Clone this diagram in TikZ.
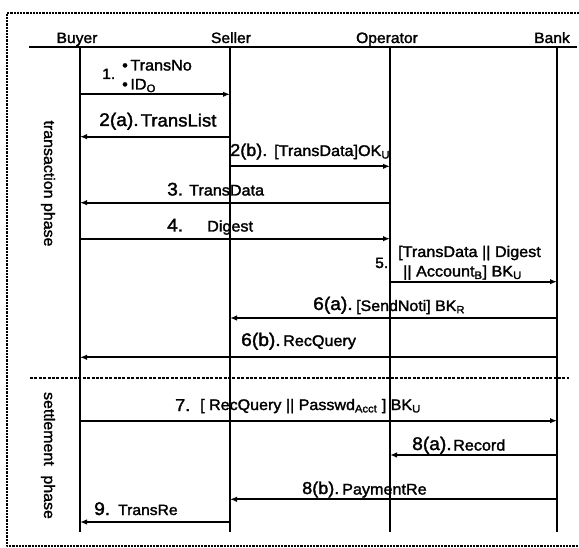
\documentclass[tikz,border=0pt]{standalone}
\usepackage{fontspec}
\setmainfont{Liberation Sans}[FakeStretch=1.05,FakeBold=1.8]
\usetikzlibrary{arrows.meta}

\newcommand{\numsize}{\fontsize{18.3}{20}\selectfont}
\newcommand{\txtsize}{\fontsize{15.4}{17}\selectfont}

\begin{document}
\begin{tikzpicture}[x=1pt,y=-1pt,line join=round,
    life/.style={line width=1.7pt},
    msg/.style={line width=1.9pt,-{Latex[length=7pt,width=5.5pt]}},
    frame/.style={line width=1.3pt,dash pattern=on 2.2pt off 1pt},
    phasesep/.style={line width=1.4pt,dash pattern=on 3pt off 1.4pt},
    head/.style={anchor=base,inner sep=0pt,font=\fontsize{14.9}{16}\selectfont},
    num/.style={anchor=base west,inner sep=0pt,font=\numsize},
    txt/.style={anchor=base west,inner sep=0pt,font=\txtsize},
    phase/.style={rotate=-90,inner sep=0pt,font=\fontsize{15.2}{16}\selectfont}]
  \useasboundingbox (0,0) rectangle (579,548);

  % frame and phases
  \draw[frame] (579,13) -- (7,13) -- (7,546) -- (579,546);
  \draw[phasesep] (30,378) -- (569,378);
  \node[phase] (trans) at (48,183.5) {transaction phase};
  \node[phase] (settle) at (48,455.5) {settlement\hspace{0.35em} phase};

  % participants
  \node[head] (buyer) at (77,43) {Buyer};
  \node[head] (seller) at (231,43) {Seller};
  \node[head] (operator) at (387,43) {Operator};
  \node[head] (bank) at (552,43) {Bank};
  \draw[life] (29,47) -- (577,47);

  \coordinate (buyerL) at (80,47);
  \coordinate (sellerL) at (230,47);
  \coordinate (operatorL) at (390,47);
  \coordinate (bankL) at (557,47);
  \coordinate (lifeend) at (0,532);
  \foreach \p in {buyerL,sellerL,operatorL,bankL}
    \draw[life] (\p) -- (\p |- lifeend);

  % message levels
  \foreach \m/\y in {m1/94.3,m2a/136.7,m2b/166.3,m3/202.7,m4/238.7,m5/281.7,
                     m6a/318,m6b/357.3,m7/420.7,m8a/455,m8b/499.3,m9/522}
    \coordinate (\m) at (0,\y);

  \draw[msg] (buyerL |- m1) -- (sellerL |- m1);
  \draw[msg] (sellerL |- m2a) -- (buyerL |- m2a);
  \draw[msg] (sellerL |- m2b) -- (operatorL |- m2b);
  \draw[msg] (operatorL |- m3) -- (buyerL |- m3);
  \draw[msg] (buyerL |- m4) -- (operatorL |- m4);
  \draw[msg] (operatorL |- m5) -- (bankL |- m5);
  \draw[msg] (bankL |- m6a) -- (sellerL |- m6a);
  \draw[msg] (bankL |- m6b) -- (buyerL |- m6b);
  \draw[msg] (buyerL |- m7) -- (bankL |- m7);
  \draw[msg] (bankL |- m8a) -- (operatorL |- m8a);
  \draw[msg] (bankL |- m8b) -- (sellerL |- m8b);
  \draw[msg] (sellerL |- m9) -- (buyerL |- m9);

  % labels
  \node[num,font=\fontsize{14.9}{16}\selectfont] (n1) at (102,79) {1.};
  \node[txt] (t1a) at (122,70.5) {\textbullet\,TransNo};
  \node[txt] (t1b) at (122,89.5) {\textbullet\,ID\textsubscript{O}};
  \node[num] (n2a) at (99,126) {2(a).};
  \node[txt,font=\fontsize{17.7}{19}\selectfont] (t2a) at (140.5,126.5) {TransList};
  \node[num,font=\fontsize{17.2}{19}\selectfont] (n2b) at (230,156) {2(b).};
  \node[txt] (t2b) at (274,156) {[TransData]OK\textsubscript{U}};
  \node[num] (n3) at (167,195.5) {3.};
  \node[txt] (t3) at (189,195.5) {TransData};
  \node[num] (n4) at (167,231.5) {4.};
  \node[txt] (t4) at (207,231.5) {Digest};
  \node[num,font=\fontsize{14.9}{16}\selectfont] (n5) at (375,268) {5.};
  \node[txt] (t5a) at (398,257) {[TransData || Digest};
  \node[txt] (t5b) at (403,276.5) {|| Account\textsubscript{B}] BK\textsubscript{U}};
  \node[num] (n6a) at (313,310) {6(a).};
  \node[txt,font=\fontsize{15.2}{17}\selectfont] (t6a) at (356,311) {[SendNoti] BK\textsubscript{R}};
  \node[num] (n6b) at (241,346) {6(b).};
  \node[txt] (t6b) at (283,346) {RecQuery};
  \node[num,font=\fontsize{17.2}{19}\selectfont] (n7) at (175,411) {7.};
  \node[txt,font=\fontsize{15.3}{17}\selectfont] (t7) at (200,410)
    {[ RecQuery || Passwd\textsubscript{Acct} ] BK\textsubscript{U}};
  \node[num] (n8a) at (412,450) {8(a).};
  \node[txt] (t8a) at (453,450.5) {Record};
  \node[num,font=\fontsize{17.2}{19}\selectfont] (n8b) at (302,494) {8(b).};
  \node[txt] (t8b) at (342,494.5) {PaymentRe};
  \node[num] (n9) at (94,515) {9.};
  \node[txt,font=\fontsize{14.9}{16}\selectfont] (t9) at (118,515) {TransRe};
\end{tikzpicture}
\end{document}
